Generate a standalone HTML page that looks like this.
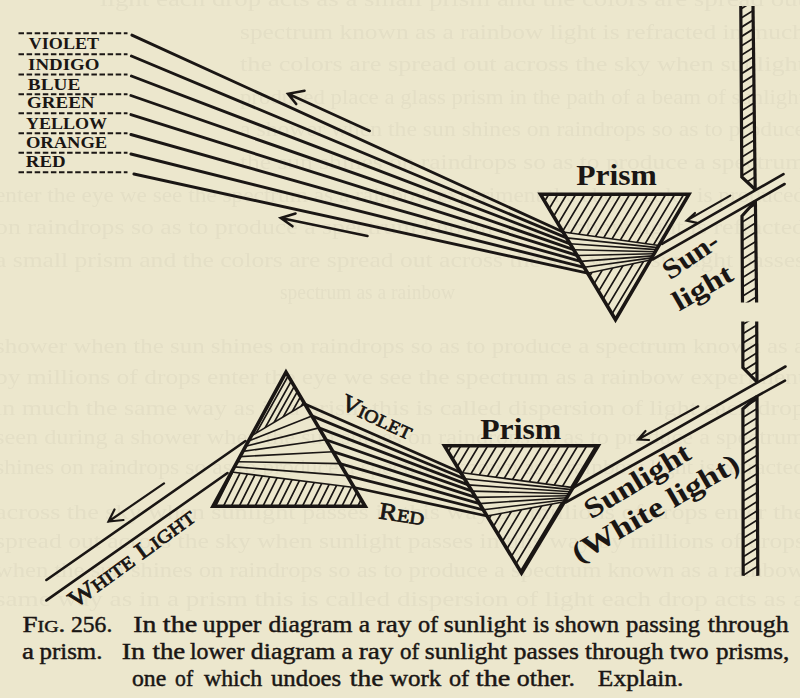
<!DOCTYPE html>
<html><head><meta charset="utf-8"><style>
html,body{margin:0;padding:0;background:#ECE7CD;width:800px;height:698px;overflow:hidden}
svg{display:block}
</style></head><body>
<svg width="800" height="698" viewBox="0 0 800 698">
<defs><clipPath id="c1"><polygon points="540.5,194.3 688.9,194.3 658.9,245.5 563.1,232.0"/></clipPath><clipPath id="c2"><polygon points="587.7,273.2 650.4,260.0 615.5,319.6"/></clipPath><clipPath id="c3"><polygon points="740.8,6.0 753.0,6.0 755.2,189.5 741.8,177.0"/></clipPath><clipPath id="c4"><polygon points="742.0,216.0 755.4,201.0 756.6,302.6 742.5,302.6"/></clipPath><clipPath id="c5"><polygon points="742.8,321.5 756.7,321.5 757.0,382.0 742.9,367.5"/></clipPath><clipPath id="c6"><polygon points="742.9,409.0 757.0,396.5 757.8,575.7 743.2,575.7"/></clipPath><clipPath id="c7"><polygon points="444.5,445.8 598.2,445.8 573.0,487.6 460.7,472.5"/></clipPath><clipPath id="c8"><polygon points="487.0,516.0 564.4,501.8 521.5,572.9"/></clipPath><clipPath id="c9"><polygon points="286.0,372.1 304.8,404.0 251.2,436.0"/></clipPath><clipPath id="c10"><polygon points="231.7,472.0 354.1,487.5 365.2,506.3 213.0,506.3"/></clipPath><filter id="gb" x="-5%" y="-50%" width="110%" height="200%"><feGaussianBlur stdDeviation="0.7"/></filter></defs>
<g fill="#E4DFC6" font-family="Liberation Serif" font-size="22" filter="url(#gb)" style="white-space:pre"><text x="100" y="6.0" textLength="705" lengthAdjust="spacingAndGlyphs">light each drop acts as a small prism and the colors are spread out</text>
<text x="240" y="38.6" textLength="565" lengthAdjust="spacingAndGlyphs">spectrum known as a rainbow light is refracted in much</text>
<text x="240" y="71.2" textLength="565" lengthAdjust="spacingAndGlyphs">the colors are spread out across the sky when sunlight</text>
<text x="240" y="103.8" textLength="565" lengthAdjust="spacingAndGlyphs">produced place a glass prism in the path of a beam of sunlight</text>
<text x="240" y="136.4" textLength="565" lengthAdjust="spacingAndGlyphs">a shower when the sun shines on raindrops so as to produce</text>
<text x="240" y="169.0" textLength="565" lengthAdjust="spacingAndGlyphs">the sun shines on raindrops so as to produce a spectrum</text>
<text x="-5" y="201.6" textLength="810" lengthAdjust="spacingAndGlyphs">enter the eye we see the spectrum as a rainbow experiment the above color is produced</text>
<text x="-5" y="234.2" textLength="810" lengthAdjust="spacingAndGlyphs">on raindrops so as to produce a spectrum known as a rainbow light is refracted</text>
<text x="-5" y="266.8" textLength="810" lengthAdjust="spacingAndGlyphs">a small prism and the colors are spread out across the sky when sunlight passes</text>
<text x="280" y="299.4" textLength="175" lengthAdjust="spacingAndGlyphs">spectrum as a rainbow</text>
<text x="-5" y="353.0" textLength="810" lengthAdjust="spacingAndGlyphs">shower when the sun shines on raindrops so as to produce a spectrum known as a</text>
<text x="-5" y="384.0" textLength="810" lengthAdjust="spacingAndGlyphs">by millions of drops enter the eye we see the spectrum as a rainbow experiment</text>
<text x="-5" y="415.0" textLength="810" lengthAdjust="spacingAndGlyphs">in much the same way as in a prism this is called dispersion of light each drop</text>
<text x="-5" y="444.0" textLength="810" lengthAdjust="spacingAndGlyphs">seen during a shower when the sun shines on raindrops so as to produce a spectrum</text>
<text x="-5" y="474.0" textLength="810" lengthAdjust="spacingAndGlyphs">shines on raindrops so as to produce a spectrum known as a rainbow light is refracted</text>
<text x="-5" y="519.0" textLength="810" lengthAdjust="spacingAndGlyphs">across the sky when sunlight passes in this way by millions of drops enter the</text>
<text x="-5" y="548.0" textLength="810" lengthAdjust="spacingAndGlyphs">spread out across the sky when sunlight passes in this way by millions of drops</text>
<text x="-5" y="577.0" textLength="810" lengthAdjust="spacingAndGlyphs">when the sun shines on raindrops so as to produce a spectrum known as a rainbow</text>
<text x="-5" y="606.0" textLength="810" lengthAdjust="spacingAndGlyphs">same way as in a prism this is called dispersion of light each drop acts as a</text></g>
<g stroke="#1a1614" fill="none">
<line x1="18.5" y1="33.3" x2="127.5" y2="33.3" stroke-width="2.0" stroke-dasharray="5.5 2.6"/>
<line x1="18.5" y1="54.2" x2="127.5" y2="54.2" stroke-width="2.0" stroke-dasharray="5.5 2.6"/>
<line x1="18.5" y1="74.5" x2="127.5" y2="74.5" stroke-width="2.0" stroke-dasharray="5.5 2.6"/>
<line x1="18.5" y1="94.2" x2="127.5" y2="94.2" stroke-width="2.0" stroke-dasharray="5.5 2.6"/>
<line x1="18.5" y1="113.3" x2="127.5" y2="113.3" stroke-width="2.0" stroke-dasharray="5.5 2.6"/>
<line x1="18.5" y1="133.2" x2="127.5" y2="133.2" stroke-width="2.0" stroke-dasharray="5.5 2.6"/>
<line x1="18.5" y1="152.8" x2="127.5" y2="152.8" stroke-width="2.0" stroke-dasharray="5.5 2.6"/>
<line x1="18.5" y1="172.3" x2="127.5" y2="172.3" stroke-width="2.0" stroke-dasharray="5.5 2.6"/>
<line x1="131.9" y1="35.1" x2="563.1" y2="232.0" stroke-width="2.9" stroke-linecap="round"/>
<line x1="563.1" y1="232.0" x2="658.9" y2="245.5" stroke-width="1.6" />
<line x1="131.4" y1="56.0" x2="566.6" y2="237.9" stroke-width="2.9" stroke-linecap="round"/>
<line x1="566.6" y1="237.9" x2="657.7" y2="247.6" stroke-width="1.6" />
<line x1="131.4" y1="76.0" x2="570.1" y2="243.8" stroke-width="2.9" stroke-linecap="round"/>
<line x1="570.1" y1="243.8" x2="656.5" y2="249.6" stroke-width="1.6" />
<line x1="130.9" y1="95.5" x2="573.6" y2="249.7" stroke-width="2.9" stroke-linecap="round"/>
<line x1="573.6" y1="249.7" x2="655.3" y2="251.7" stroke-width="1.6" />
<line x1="130.9" y1="114.6" x2="577.2" y2="255.5" stroke-width="2.9" stroke-linecap="round"/>
<line x1="577.2" y1="255.5" x2="654.1" y2="253.8" stroke-width="1.6" />
<line x1="130.9" y1="134.5" x2="580.7" y2="261.4" stroke-width="2.9" stroke-linecap="round"/>
<line x1="580.7" y1="261.4" x2="652.8" y2="255.9" stroke-width="1.6" />
<line x1="130.9" y1="154.0" x2="584.2" y2="267.3" stroke-width="2.9" stroke-linecap="round"/>
<line x1="584.2" y1="267.3" x2="651.6" y2="257.9" stroke-width="1.6" />
<line x1="133.9" y1="174.0" x2="587.7" y2="273.2" stroke-width="2.9" stroke-linecap="round"/>
<line x1="587.7" y1="273.2" x2="650.4" y2="260.0" stroke-width="1.6" />
<path clip-path="url(#c1)" d="M542.8,189.3L506.1,250.5M551.8,189.3L515.1,250.5M560.8,189.3L524.1,250.5M569.8,189.3L533.1,250.5M578.8,189.3L542.1,250.5M587.8,189.3L551.1,250.5M596.8,189.3L560.1,250.5M605.8,189.3L569.1,250.5M614.8,189.3L578.1,250.5M623.8,189.3L587.1,250.5M632.8,189.3L596.1,250.5M641.8,189.3L605.1,250.5M650.8,189.3L614.1,250.5M659.8,189.3L623.1,250.5M668.8,189.3L632.1,250.5M677.8,189.3L641.1,250.5M686.8,189.3L650.1,250.5M695.8,189.3L659.1,250.5M704.8,189.3L668.1,250.5M713.8,189.3L677.1,250.5M722.8,189.3L686.1,250.5" stroke-width="1.7" fill="none"/>
<path clip-path="url(#c2)" d="M584.4,255.0L542.6,324.6M593.4,255.0L551.6,324.6M602.4,255.0L560.6,324.6M611.4,255.0L569.6,324.6M620.4,255.0L578.6,324.6M629.4,255.0L587.6,324.6M638.4,255.0L596.6,324.6M647.4,255.0L605.6,324.6M656.4,255.0L614.6,324.6M665.4,255.0L623.6,324.6M674.4,255.0L632.6,324.6M683.4,255.0L641.6,324.6M692.4,255.0L650.6,324.6" stroke-width="1.7" fill="none"/>
<polygon points="540.5,194.3 688.9,194.3 615.5,319.6" fill="none" stroke-width="3.6" stroke-linejoin="miter"/>
<path d="M369.7,131.0L288.0,93.8M304.5,90.8L288.0,93.8L296.2,104.0" fill="none" stroke-width="2.6" stroke-linecap="round" stroke-linejoin="miter"/>
<path d="M367.5,236.0L280.8,218.0M295.5,213.5L280.8,218.0L292.5,226.3" fill="none" stroke-width="2.6" stroke-linecap="round" stroke-linejoin="miter"/>
<line x1="783.5" y1="174.1" x2="662.0" y2="243.8" stroke-width="2.6" stroke-linecap="round"/>
<line x1="784.6" y1="184.0" x2="652.5" y2="259.5" stroke-width="2.6" stroke-linecap="round"/>
<path d="M730.3,195.6L686.6,220.6M695.0,213.0L686.6,220.6L697.0,222.8" fill="none" stroke-width="2.2" stroke-linecap="round" stroke-linejoin="miter"/>
<path clip-path="url(#c3)" d="M738.7,1.0L429.1,194.5M753.6,1.0L444.0,194.5M768.5,1.0L458.9,194.5M783.4,1.0L473.8,194.5M798.2,1.0L488.6,194.5M813.1,1.0L503.5,194.5M828.0,1.0L518.4,194.5M842.9,1.0L533.3,194.5M857.8,1.0L548.2,194.5M872.6,1.0L563.0,194.5M887.5,1.0L577.9,194.5M902.4,1.0L592.8,194.5M917.3,1.0L607.7,194.5M932.2,1.0L622.6,194.5M947.0,1.0L637.4,194.5M961.9,1.0L652.3,194.5M976.8,1.0L667.2,194.5M991.7,1.0L682.1,194.5M1006.6,1.0L697.0,194.5M1021.4,1.0L711.8,194.5M1036.3,1.0L726.7,194.5M1051.2,1.0L741.6,194.5M1066.1,1.0L756.5,194.5" stroke-width="1.7" fill="none"/>
<path clip-path="url(#c4)" d="M739.2,196.0L560.6,307.6M754.1,196.0L575.5,307.6M769.0,196.0L590.4,307.6M783.8,196.0L605.3,307.6M798.7,196.0L620.2,307.6M813.6,196.0L635.0,307.6M828.5,196.0L649.9,307.6M843.4,196.0L664.8,307.6M858.2,196.0L679.7,307.6M873.1,196.0L694.6,307.6M888.0,196.0L709.4,307.6M902.9,196.0L724.3,307.6M917.8,196.0L739.2,307.6M932.6,196.0L754.1,307.6" stroke-width="1.7" fill="none"/>
<path d="M740.8,6.0L741.8,177.0L755.2,189.5" fill="none" stroke-width="3.2"/>
<path d="M753.0,6.0L755.2,189.5" fill="none" stroke-width="3.2"/>
<path d="M755.4,201.0L742.0,216.0L742.5,302.6" fill="none" stroke-width="3.2"/>
<path d="M755.4,201.0L756.6,302.6" fill="none" stroke-width="3.2"/>
<path clip-path="url(#c5)" d="M740.7,316.5L627.9,387.0M755.6,316.5L642.8,387.0M770.5,316.5L657.7,387.0M785.4,316.5L672.6,387.0M800.2,316.5L687.4,387.0M815.1,316.5L702.3,387.0M830.0,316.5L717.2,387.0M844.9,316.5L732.1,387.0M859.8,316.5L747.0,387.0M874.6,316.5L761.8,387.0" stroke-width="1.7" fill="none"/>
<path clip-path="url(#c6)" d="M739.8,391.5L437.0,580.7M754.6,391.5L451.9,580.7M769.5,391.5L466.8,580.7M784.4,391.5L481.7,580.7M799.3,391.5L496.6,580.7M814.2,391.5L511.4,580.7M829.0,391.5L526.3,580.7M843.9,391.5L541.2,580.7M858.8,391.5L556.1,580.7M873.7,391.5L571.0,580.7M888.6,391.5L585.8,580.7M903.4,391.5L600.7,580.7M918.3,391.5L615.6,580.7M933.2,391.5L630.5,580.7M948.1,391.5L645.4,580.7M963.0,391.5L660.2,580.7M977.8,391.5L675.1,580.7M992.7,391.5L690.0,580.7M1007.6,391.5L704.9,580.7M1022.5,391.5L719.8,580.7M1037.4,391.5L734.6,580.7M1052.2,391.5L749.5,580.7" stroke-width="1.7" fill="none"/>
<path d="M742.8,321.5L742.9,367.5L757.0,382.0" fill="none" stroke-width="3.2"/>
<path d="M756.7,321.5L757.0,382.0" fill="none" stroke-width="3.2"/>
<path d="M757.0,396.5L742.9,409.0L743.2,575.7" fill="none" stroke-width="3.2"/>
<path d="M757.0,396.5L757.8,575.7" fill="none" stroke-width="3.2"/>
<line x1="304.8" y1="404.0" x2="460.7" y2="472.5" stroke-width="2.8" stroke-linecap="round"/>
<line x1="460.7" y1="472.5" x2="573.0" y2="487.6" stroke-width="1.6" />
<line x1="251.2" y1="436.0" x2="304.8" y2="404.0" stroke-width="1.6" />
<line x1="311.9" y1="415.9" x2="464.4" y2="478.7" stroke-width="2.8" stroke-linecap="round"/>
<line x1="464.4" y1="478.7" x2="571.8" y2="489.6" stroke-width="1.6" />
<line x1="248.4" y1="441.1" x2="311.9" y2="415.9" stroke-width="1.6" />
<line x1="318.9" y1="427.9" x2="468.2" y2="484.9" stroke-width="2.8" stroke-linecap="round"/>
<line x1="468.2" y1="484.9" x2="570.5" y2="491.7" stroke-width="1.6" />
<line x1="245.6" y1="446.3" x2="318.9" y2="427.9" stroke-width="1.6" />
<line x1="325.9" y1="439.8" x2="472.0" y2="491.1" stroke-width="2.8" stroke-linecap="round"/>
<line x1="472.0" y1="491.1" x2="569.3" y2="493.7" stroke-width="1.6" />
<line x1="242.8" y1="451.4" x2="325.9" y2="439.8" stroke-width="1.6" />
<line x1="333.0" y1="451.7" x2="475.7" y2="497.4" stroke-width="2.8" stroke-linecap="round"/>
<line x1="475.7" y1="497.4" x2="568.1" y2="495.7" stroke-width="1.6" />
<line x1="240.1" y1="456.6" x2="333.0" y2="451.7" stroke-width="1.6" />
<line x1="340.0" y1="463.6" x2="479.5" y2="503.6" stroke-width="2.8" stroke-linecap="round"/>
<line x1="479.5" y1="503.6" x2="566.9" y2="497.7" stroke-width="1.6" />
<line x1="237.3" y1="461.7" x2="340.0" y2="463.6" stroke-width="1.6" />
<line x1="347.1" y1="475.6" x2="483.3" y2="509.8" stroke-width="2.8" stroke-linecap="round"/>
<line x1="483.3" y1="509.8" x2="565.6" y2="499.8" stroke-width="1.6" />
<line x1="234.5" y1="466.9" x2="347.1" y2="475.6" stroke-width="1.6" />
<line x1="354.1" y1="487.5" x2="487.0" y2="516.0" stroke-width="2.8" stroke-linecap="round"/>
<line x1="487.0" y1="516.0" x2="564.4" y2="501.8" stroke-width="1.6" />
<line x1="231.7" y1="472.0" x2="354.1" y2="487.5" stroke-width="1.6" />
<path clip-path="url(#c7)" d="M445.8,440.8L414.7,492.6M454.8,440.8L423.7,492.6M463.8,440.8L432.7,492.6M472.8,440.8L441.7,492.6M481.8,440.8L450.7,492.6M490.8,440.8L459.7,492.6M499.8,440.8L468.7,492.6M508.8,440.8L477.7,492.6M517.8,440.8L486.7,492.6M526.8,440.8L495.7,492.6M535.8,440.8L504.7,492.6M544.8,440.8L513.7,492.6M553.8,440.8L522.7,492.6M562.8,440.8L531.7,492.6M571.8,440.8L540.7,492.6M580.8,440.8L549.7,492.6M589.8,440.8L558.7,492.6M598.8,440.8L567.7,492.6M607.8,440.8L576.7,492.6M616.8,440.8L585.7,492.6M625.8,440.8L594.7,492.6" stroke-width="1.7" fill="none"/>
<path clip-path="url(#c8)" d="M484.2,496.8L435.5,577.9M493.2,496.8L444.5,577.9M502.2,496.8L453.5,577.9M511.2,496.8L462.5,577.9M520.2,496.8L471.5,577.9M529.2,496.8L480.5,577.9M538.2,496.8L489.5,577.9M547.2,496.8L498.5,577.9M556.2,496.8L507.5,577.9M565.2,496.8L516.5,577.9M574.2,496.8L525.5,577.9M583.2,496.8L534.5,577.9M592.2,496.8L543.5,577.9M601.2,496.8L552.5,577.9M610.2,496.8L561.5,577.9" stroke-width="1.7" fill="none"/>
<polygon points="444.5,445.8 598.2,445.8 521.5,572.9" fill="none" stroke-width="3.6" stroke-linejoin="miter"/>
<path clip-path="url(#c9)" d="M251.1,367.1L209.7,441.0M257.1,367.1L215.7,441.0M263.1,367.1L221.7,441.0M269.1,367.1L227.7,441.0M275.1,367.1L233.7,441.0M281.1,367.1L239.7,441.0M287.1,367.1L245.7,441.0M293.1,367.1L251.7,441.0M299.1,367.1L257.7,441.0M305.1,367.1L263.7,441.0M311.1,367.1L269.7,441.0M317.1,367.1L275.7,441.0M323.1,367.1L281.7,441.0M329.1,367.1L287.7,441.0M335.1,367.1L293.7,441.0M341.1,367.1L299.7,441.0M347.1,367.1L305.7,441.0" stroke-width="1.7" fill="none"/>
<path clip-path="url(#c10)" d="M211.5,467.0L189.3,511.3M219.3,467.0L197.2,511.3M227.2,467.0L205.1,511.3M235.2,467.0L213.0,511.3M243.1,467.0L220.9,511.3M251.0,467.0L228.8,511.3M258.9,467.0L236.7,511.3M266.8,467.0L244.6,511.3M274.6,467.0L252.5,511.3M282.5,467.0L260.4,511.3M290.5,467.0L268.3,511.3M298.4,467.0L276.2,511.3M306.2,467.0L284.1,511.3M314.1,467.0L292.0,511.3M322.0,467.0L299.9,511.3M330.0,467.0L307.8,511.3M337.9,467.0L315.7,511.3M345.8,467.0L323.6,511.3M353.6,467.0L331.5,511.3M361.5,467.0L339.4,511.3M369.5,467.0L347.3,511.3M377.4,467.0L355.2,511.3M385.2,467.0L363.1,511.3" stroke-width="1.7" fill="none"/>
<polygon points="286.0,372.1 365.2,506.3 213.0,506.3" fill="none" stroke-width="3.6" stroke-linejoin="miter"/>
<line x1="245.5" y1="441.0" x2="46.4" y2="580.0" stroke-width="2.6" stroke-linecap="round"/>
<line x1="227.5" y1="473.0" x2="46.4" y2="600.4" stroke-width="2.6" stroke-linecap="round"/>
<path d="M164.0,483.4L108.5,521.5M114.5,509.5L108.5,521.5L123.5,520.0" fill="none" stroke-width="2.2" stroke-linecap="round" stroke-linejoin="miter"/>
<line x1="785.5" y1="366.5" x2="572.7" y2="488.0" stroke-width="2.6" stroke-linecap="round"/>
<line x1="785.0" y1="380.6" x2="565.5" y2="502.5" stroke-width="2.6" stroke-linecap="round"/>
<path d="M698.3,406.3L638.0,439.5M645.5,431.0L638.0,439.5L649.0,440.0" fill="none" stroke-width="2.2" stroke-linecap="round" stroke-linejoin="miter"/>
</g>
<g fill="#1a1614" font-family="Liberation Serif" style="white-space:pre">
<text x="28.80" y="49.3" font-size="16.8" font-weight="bold" textLength="70.20" lengthAdjust="spacingAndGlyphs">VIOLET</text>
<text x="28.07" y="69.7" font-size="16.8" font-weight="bold" textLength="71.38" lengthAdjust="spacingAndGlyphs">INDIGO</text>
<text x="27.85" y="90.0" font-size="16.8" font-weight="bold" textLength="52.45" lengthAdjust="spacingAndGlyphs">BLUE</text>
<text x="27.07" y="107.8" font-size="16.8" font-weight="bold" textLength="67.41" lengthAdjust="spacingAndGlyphs">GREEN</text>
<text x="25.93" y="128.7" font-size="16.8" font-weight="bold" textLength="81.16" lengthAdjust="spacingAndGlyphs">YELLOW</text>
<text x="25.90" y="147.8" font-size="16.8" font-weight="bold" textLength="81.33" lengthAdjust="spacingAndGlyphs">ORANGE</text>
<text x="25.88" y="167.0" font-size="16.8" font-weight="bold" textLength="39.82" lengthAdjust="spacingAndGlyphs">RED</text>
<text x="576.22" y="184.8" font-size="29.2" font-weight="bold" textLength="80.71" lengthAdjust="spacingAndGlyphs">Prism</text>
<text x="480.24" y="438.5" font-size="30" font-weight="bold" textLength="81.03" lengthAdjust="spacingAndGlyphs">Prism</text>
<text x="22.42" y="631.6" font-size="23" font-weight="normal" textLength="42.94" lengthAdjust="spacingAndGlyphs" stroke="#1a1614" stroke-width="0.45">F<tspan font-size="17">IG</tspan>.</text>
<text x="70.97" y="631.6" font-size="23" font-weight="normal" textLength="41.31" lengthAdjust="spacingAndGlyphs" stroke="#1a1614" stroke-width="0.45">256.</text>
<text x="133.20" y="631.6" font-size="23" font-weight="normal" textLength="23.01" lengthAdjust="spacingAndGlyphs" stroke="#1a1614" stroke-width="0.45">In</text>
<text x="162.77" y="631.6" font-size="23" font-weight="normal" textLength="34.60" lengthAdjust="spacingAndGlyphs" stroke="#1a1614" stroke-width="0.45">the</text>
<text x="202.88" y="631.6" font-size="23" font-weight="normal" textLength="58.54" lengthAdjust="spacingAndGlyphs" stroke="#1a1614" stroke-width="0.45">upper</text>
<text x="268.49" y="631.6" font-size="23" font-weight="normal" textLength="83.91" lengthAdjust="spacingAndGlyphs" stroke="#1a1614" stroke-width="0.45">diagram</text>
<text x="358.89" y="631.6" font-size="23" font-weight="normal" textLength="11.35" lengthAdjust="spacingAndGlyphs" stroke="#1a1614" stroke-width="0.45">a</text>
<text x="376.82" y="631.6" font-size="23" font-weight="normal" textLength="34.62" lengthAdjust="spacingAndGlyphs" stroke="#1a1614" stroke-width="0.45">ray</text>
<text x="417.94" y="631.6" font-size="23" font-weight="normal" textLength="20.24" lengthAdjust="spacingAndGlyphs" stroke="#1a1614" stroke-width="0.45">of</text>
<text x="443.89" y="631.6" font-size="23" font-weight="normal" textLength="82.25" lengthAdjust="spacingAndGlyphs" stroke="#1a1614" stroke-width="0.45">sunlight</text>
<text x="532.93" y="631.6" font-size="23" font-weight="normal" textLength="16.44" lengthAdjust="spacingAndGlyphs" stroke="#1a1614" stroke-width="0.45">is</text>
<text x="554.93" y="631.6" font-size="23" font-weight="normal" textLength="64.20" lengthAdjust="spacingAndGlyphs" stroke="#1a1614" stroke-width="0.45">shown</text>
<text x="625.93" y="631.6" font-size="23" font-weight="normal" textLength="74.07" lengthAdjust="spacingAndGlyphs" stroke="#1a1614" stroke-width="0.45">passing</text>
<text x="707.87" y="631.6" font-size="23" font-weight="normal" textLength="80.76" lengthAdjust="spacingAndGlyphs" stroke="#1a1614" stroke-width="0.45">through</text>
<text x="21.92" y="658.8" font-size="23" font-weight="normal" textLength="12.04" lengthAdjust="spacingAndGlyphs" stroke="#1a1614" stroke-width="0.45">a</text>
<text x="39.52" y="658.8" font-size="23" font-weight="normal" textLength="62.92" lengthAdjust="spacingAndGlyphs" stroke="#1a1614" stroke-width="0.45">prism.</text>
<text x="121.78" y="658.8" font-size="23" font-weight="normal" textLength="23.43" lengthAdjust="spacingAndGlyphs" stroke="#1a1614" stroke-width="0.45">In</text>
<text x="152.43" y="658.8" font-size="23" font-weight="normal" textLength="32.87" lengthAdjust="spacingAndGlyphs" stroke="#1a1614" stroke-width="0.45">the</text>
<text x="189.96" y="658.8" font-size="23" font-weight="normal" textLength="54.43" lengthAdjust="spacingAndGlyphs" stroke="#1a1614" stroke-width="0.45">lower</text>
<text x="250.88" y="658.8" font-size="23" font-weight="normal" textLength="84.52" lengthAdjust="spacingAndGlyphs" stroke="#1a1614" stroke-width="0.45">diagram</text>
<text x="341.51" y="658.8" font-size="23" font-weight="normal" textLength="11.13" lengthAdjust="spacingAndGlyphs" stroke="#1a1614" stroke-width="0.45">a</text>
<text x="358.82" y="658.8" font-size="23" font-weight="normal" textLength="34.62" lengthAdjust="spacingAndGlyphs" stroke="#1a1614" stroke-width="0.45">ray</text>
<text x="400.00" y="658.8" font-size="23" font-weight="normal" textLength="19.17" lengthAdjust="spacingAndGlyphs" stroke="#1a1614" stroke-width="0.45">of</text>
<text x="424.89" y="658.8" font-size="23" font-weight="normal" textLength="82.25" lengthAdjust="spacingAndGlyphs" stroke="#1a1614" stroke-width="0.45">sunlight</text>
<text x="513.89" y="658.8" font-size="23" font-weight="normal" textLength="64.97" lengthAdjust="spacingAndGlyphs" stroke="#1a1614" stroke-width="0.45">passes</text>
<text x="584.90" y="658.8" font-size="23" font-weight="normal" textLength="78.72" lengthAdjust="spacingAndGlyphs" stroke="#1a1614" stroke-width="0.45">through</text>
<text x="669.88" y="658.8" font-size="23" font-weight="normal" textLength="38.68" lengthAdjust="spacingAndGlyphs" stroke="#1a1614" stroke-width="0.45">two</text>
<text x="715.91" y="658.8" font-size="23" font-weight="normal" textLength="73.29" lengthAdjust="spacingAndGlyphs" stroke="#1a1614" stroke-width="0.45">prisms,</text>
<text x="131.97" y="686.0" font-size="23" font-weight="normal" textLength="34.29" lengthAdjust="spacingAndGlyphs" stroke="#1a1614" stroke-width="0.45">one</text>
<text x="175.06" y="686.0" font-size="23" font-weight="normal" textLength="18.11" lengthAdjust="spacingAndGlyphs" stroke="#1a1614" stroke-width="0.45">of</text>
<text x="204.00" y="686.0" font-size="23" font-weight="normal" textLength="58.23" lengthAdjust="spacingAndGlyphs" stroke="#1a1614" stroke-width="0.45">which</text>
<text x="270.92" y="686.0" font-size="23" font-weight="normal" textLength="70.34" lengthAdjust="spacingAndGlyphs" stroke="#1a1614" stroke-width="0.45">undoes</text>
<text x="349.81" y="686.0" font-size="23" font-weight="normal" textLength="33.52" lengthAdjust="spacingAndGlyphs" stroke="#1a1614" stroke-width="0.45">the</text>
<text x="390.00" y="686.0" font-size="23" font-weight="normal" textLength="51.31" lengthAdjust="spacingAndGlyphs" stroke="#1a1614" stroke-width="0.45">work</text>
<text x="448.94" y="686.0" font-size="23" font-weight="normal" textLength="20.24" lengthAdjust="spacingAndGlyphs" stroke="#1a1614" stroke-width="0.45">of</text>
<text x="475.77" y="686.0" font-size="23" font-weight="normal" textLength="34.60" lengthAdjust="spacingAndGlyphs" stroke="#1a1614" stroke-width="0.45">the</text>
<text x="516.88" y="686.0" font-size="23" font-weight="normal" textLength="58.09" lengthAdjust="spacingAndGlyphs" stroke="#1a1614" stroke-width="0.45">other.</text>
<text x="597.89" y="686.0" font-size="23" font-weight="normal" textLength="85.54" lengthAdjust="spacingAndGlyphs" stroke="#1a1614" stroke-width="0.45">Explain.</text>
<text x="670.00" y="280.5" font-size="28" font-weight="bold" textLength="62.00" lengthAdjust="spacingAndGlyphs" transform="rotate(-34 670.0 280.5)">Sun-</text>
<text x="678.81" y="311.0" font-size="28" font-weight="bold" textLength="64.75" lengthAdjust="spacingAndGlyphs" transform="rotate(-30 680.0 311.0)">light</text>
<text x="591.00" y="519.5" font-size="28.5" font-weight="bold" textLength="119.00" lengthAdjust="spacingAndGlyphs" transform="rotate(-31 591.0 519.5)">Sunlight</text>
<text x="578.29" y="562.5" font-size="28.5" font-weight="bold" textLength="188.36" lengthAdjust="spacingAndGlyphs" transform="rotate(-30 579.5 562.5)">(White light)</text>
<text x="339.30" y="408.0" font-size="24" font-weight="normal" textLength="76.00" lengthAdjust="spacingAndGlyphs" transform="rotate(25 339.3 408.0)" stroke="#1a1614" stroke-width="0.75">V<tspan font-size="18">IOLET</tspan></text>
<text x="378.06" y="518.4" font-size="24" font-weight="normal" textLength="45.81" lengthAdjust="spacingAndGlyphs" transform="rotate(9 379.2 518.4)" stroke="#1a1614" stroke-width="0.75">R<tspan font-size="18">ED</tspan></text>
<text x="75.40" y="608.5" font-size="24" font-weight="normal" textLength="150.37" lengthAdjust="spacingAndGlyphs" transform="rotate(-36 75.4 608.5)" stroke="#1a1614" stroke-width="0.75">W<tspan font-size="18">HITE</tspan>  L<tspan font-size="18">IGHT</tspan></text>
</g>
</svg>
</body></html>
